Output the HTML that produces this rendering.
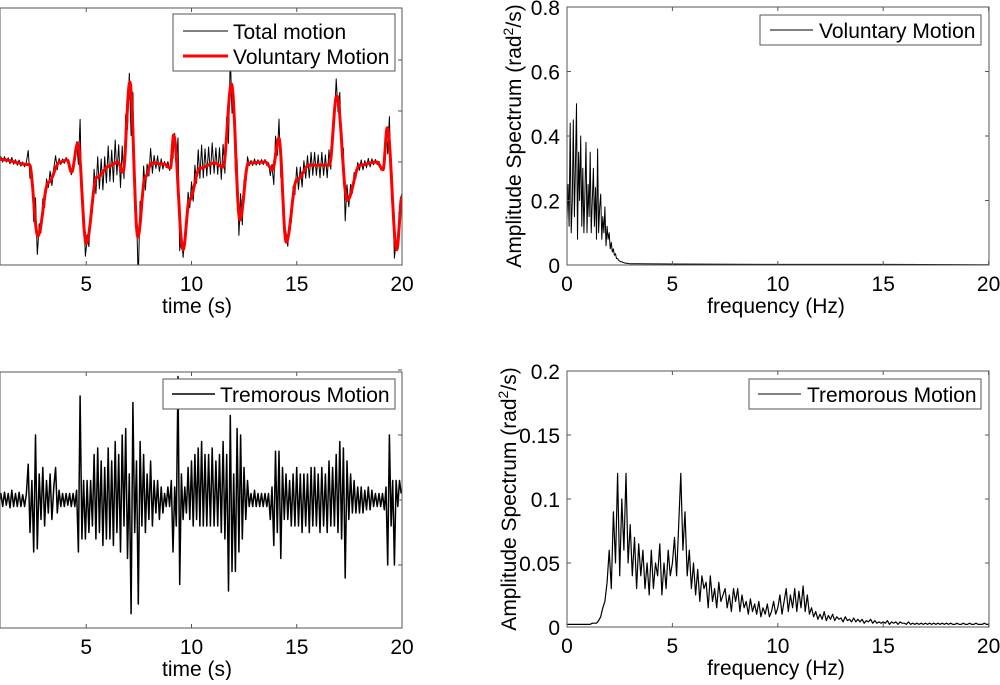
<!DOCTYPE html>
<html><head><meta charset="utf-8"><style>
body{margin:0;background:#fff;width:1000px;height:680px;overflow:hidden}
svg{font-family:"Liberation Sans",sans-serif}
</style></head><body>
<svg id="c" width="1000" height="680" viewBox="0 0 1000 680"></svg>
<script>
// ---- data ----
const volT=[0.9,2.3,2.7,3.2,3.75,4.1,4.3,4.6,5.0,5.5,6.1,6.5,6.75,7.07,7.45,7.8,8.1,8.7,9.0,9.15,9.6,9.9,10.4,11.1,11.5,11.9,12.3,12.7,13.5,13.85,14.15,14.5,15.0,15.6,16.55,16.9,17.4,18.0,18.8,19.1,19.3,19.75,20];
const volV=[0.05,-0.05,-1.45,-0.4,0,0.04,-0.2,0.37,-1.6,-0.3,-0.08,0,-0.2,1.57,-1.47,-0.3,-0.02,-0.04,-0.12,0.53,-1.72,-0.75,-0.12,-0.02,-0.1,1.53,-1.14,-0.02,0,-0.15,0.47,-1.57,-0.35,-0.06,-0.06,1.3,-0.75,-0.06,0,-0.15,0.67,-1.72,-0.67];
const tremSegStart=[0.9,2.2,3.5,4.5,5.0,6.0,7.0,7.6,8.6,9.0,9.8,10.6,11.8,12.7,13.7,14.7,17.0,17.6,19.2];
const tremSegEnd=[2.2,3.5,4.5,5.0,6.0,7.0,7.6,8.6,9.0,9.8,10.6,11.8,12.7,13.7,14.7,17.0,17.6,19.2,20];
const tremVals=[
[.1,-.1,.12,-.08,.1,-.12,.15,-.1,.1,-.1,.12,-.1,.08,-.1,.1],
[.55,-.5,.3,-.8,1.0,-.75,.4,-.3,.5,-.4,.3,-.2,.4,-.3,.2],
[.5,-.2,.15,-.1,.1,-.1,.1,-.08,.1,-.1,.1,-.1],
[.15,-.8,1.6,-.6,.3,-.6],
[.3,-.5,.3,-.4,.7,-.6,.8,-.5,.6,-.7,.5,-.6],
[.8,-.6,.6,-.7,.9,-.5,.7,-.8,1.0,-.4,1.1,-.9],
[.4,-1.75,1.5,-.5,.6,-1.6,.9],
[-.4,.7,-.5,.4,-.3,.6,-.4,.3,-.2,.3,-.3,.2],
[-.2,.1,-.1,.2,-.1],
[.3,-.8,.2,-.4,1.9,-1.3,.4,-.3,.2,-.2],
[.5,-.3,.6,-.4,.7,-.3,.8,-.4,.9,-.4],
[.7,-.4,.7,-.4,.8,-.4,.6,-.4,.7,-.5,.9,-.6,.7,-1.4],
[1.3,-1.1,.4,-1.1,1.1,-.8,1.0,-.6,.5,-.3,.3],
[-.1,.1,-.1,.15,-.1,.1,-.1,.1,-.1,.1,-.1,.1],
[-.3,.2,-.7,.75,-.5,.75,-.9,.5,-.3,.4,-.3,.3],
[-.4,.4,-.4,.5,-.4,.4,-.5,.4,-.4,.4,-.5,.5,-.4,.5,-.4,.4,-.5,.5,-.4,.4,-.5,.6,-.4,.5,-.4,.7,-.5],
[.9,-.6,.8,-1.2,.6,-.3,.4],
[-.2,.3,-.2,.2,-.2,.2,-.2,.15,-.15,.2,-.15,.15,-.1,.1,-.1,.1,-.1,.1,-.15],
[.2,-1.0,1.0,-.4,.3,-1.0,.3,-.1,.3,.1]];
const volSpecStep=0.05;
const volSpec=[.14,.25,.12,.44,.1,.2,.45,.15,.3,.5,.08,.35,.2,.4,.12,.3,.1,.22,.38,.1,.25,.15,.35,.1,.2,.3,.12,.24,.08,.36,.1,.18,.22,.08,.15,.1,.18,.06,.12,.08,.1,.05,.07,.04,.05,.03,.035,.02,.02,.015,.012,.01,.01,.008,.007,.006,.006,.005,.005,.004,.004];
const volSpecTailF=[3,5,10,15,20];
const volSpecTail=[.004,.003,.002,.002,.001];
const tremSpecStep=0.1;
const tremSpec=[.002,.002,.002,.002,.002,.002,.002,.002,.002,.002,.002,.002,.003,.003,.003,
.005,.008,.015,.02,.035,
.06,.03,.09,.05,.12,.04,.1,.06,.12,.05,
.08,.04,.07,.03,.065,.04,.06,.03,.05,.025,
.06,.03,.05,.04,.065,.025,.05,.03,.06,.04,
.05,.07,.04,.08,.12,.06,.09,.04,.06,.03,
.05,.025,.045,.02,.04,.03,.035,.015,.04,.02,
.03,.015,.035,.02,.025,.03,.015,.025,.012,.03,
.02,.03,.012,.025,.015,.02,.01,.022,.012,.018,
.01,.02,.008,.015,.01,.018,.008,.012,.02,.01,
.015,.025,.01,.02,.03,.012,.025,.015,.03,.012,
.028,.015,.032,.012,.025,.01,.015,.008,.012,.006,
.01,.006,.012,.005,.009,.006,.01,.005,.008,.006,
.007,.004,.008,.005,.006,.004,.007,.004,.006,.004,
.006,.003,.005,.004,.006,.003,.005,.003,.004,.003,
.004,.003,.005,.002,.004,.003,.004,.002,.004,.003,
.003,.002,.004,.002,.003,.002,.003,.002,.003,.002,
.003,.002,.003,.002,.003,.002,.003,.002,.003,.002,
.003,.002,.003,.002,.002,.003,.002,.002,.003,.002,
.002,.003,.002,.002,.003,.002,.002,.002,.003,.002,.002];
const timeTicks=[5,10,15,20];
const freqTicks=[0,5,10,15,20];
const volSpecYTicks=[0,0.2,0.4,0.6,0.8];
const tremSpecYTicks=[0,0.05,0.1,0.15,0.2];
const tremSpecYLabels=["0","0.05","0.1","0.15","0.2"];
const volSpecYLabels=["0","0.2","0.4","0.6","0.8"];
const leftYTicks=[-1,0,1,2];

// ---- helpers ----
const FS=21;
const svg=document.getElementById('c');
const NS='http://www.w3.org/2000/svg';
function mk(tag,attrs,parent){const e=document.createElementNS(NS,tag);for(const k in attrs)e.setAttribute(k,attrs[k]);(parent||svg).appendChild(e);return e;}
function interp(ts,vs,t){if(t<=ts[0])return vs[0];for(let i=1;i<ts.length;i++){if(t<=ts[i]){const f=(t-ts[i-1])/(ts[i]-ts[i-1]);return vs[i-1]+f*(vs[i]-vs[i-1]);}}return vs[vs.length-1];}
function sinterp(ts,vs,t){if(t<=ts[0])return vs[0];for(let i=1;i<ts.length;i++){if(t<=ts[i]){let f=(t-ts[i-1])/(ts[i]-ts[i-1]);f=(1-Math.cos(Math.PI*f))/2;return vs[i-1]+f*(vs[i]-vs[i-1]);}}return vs[vs.length-1];}
const tremT=[],tremV=[];
tremSegStart.forEach((s,i)=>{const vals=tremVals[i];const d=(tremSegEnd[i]-s)/vals.length;vals.forEach((v,j)=>{tremT.push(s+d*(j+0.5));tremV.push(v);});});

const LX0=-19, LPX=21.05;
const tx=t=>LX0+LPX*t;
const topY=v=>162-51*v;
const botY=v=>500-65*v;
const fx=f=>567+21.08*f;
const vsY=a=>265-322.5*a;
const tsY=a=>627-1280*a;

function box(x1,y1,x2,y2,name){mk('rect',{x:x1,y:y1,width:x2-x1,height:y2-y1,fill:'none',stroke:'#555','stroke-width':1,});}
function line(pts,color,w,name){const e=mk('polyline',{points:pts.map(p=>p[0].toFixed(1)+','+p[1].toFixed(1)).join(' '),fill:'none',stroke:color,'stroke-width':w,'stroke-linejoin':'round'});return e;}
function txt(x,y,s,anchor,name,size){const e=mk('text',{x:x,y:y,'font-size':size||FS,'text-anchor':anchor||'middle',fill:'#000'});e.textContent=s;return e;}
function tick(x1,y1,x2,y2){const e=mk('line',{x1:x1,y1:y1,x2:x2,y2:y2,stroke:'#555','stroke-width':1});}

// ===== top-left =====
const clip=mk('clipPath',{id:'cl'});mk('rect',{x:0,y:8,width:402,height:257},clip);
const g1=mk('g',{'clip-path':'url(#cl)'});

const totPts=[];
const allT=[...new Set([...tremT,...volT])].sort((a,b)=>a-b);
allT.forEach(t=>{totPts.push([tx(t),topY(sinterp(volT,volV,t)+0.5*interp(tremT,tremV,t))]);});
g1.appendChild(line(totPts,'#000',1,'total-motion-line'));
const volPts=[];for(let t=0.9;t<=20.001;t+=0.025)volPts.push([tx(t),topY(sinterp(volT,volV,t))]);
g1.appendChild(line(volPts,'#f00',3,'voluntary-motion-line'));
box(0,8,402,265,'top-left-axes');
timeTicks.forEach(t=>{tick(tx(t),265,tx(t),261);tick(tx(t),8,tx(t),12);txt(tx(t),291,String(t),'middle','x-tick-label');});
leftYTicks.forEach(v=>tick(402,topY(v),398,topY(v)));
txt(197,313,'time (s)','middle','x-axis-title');
mk('rect',{x:173,y:14,width:222,height:57,fill:'#fff',stroke:'#555',});
mk('line',{x1:183,y1:31,x2:228,y2:31,stroke:'#000','stroke-width':1,});
txt(233,39,'Total motion','start','legend-total-label');
mk('line',{x1:183,y1:56,x2:228,y2:56,stroke:'#f00','stroke-width':3,});
txt(233,64,'Voluntary Motion','start','legend-voluntary-label');

// ===== bottom-left =====
const clip2=mk('clipPath',{id:'cl2'});mk('rect',{x:0,y:372,width:402,height:256},clip2);
const g2=mk('g',{'clip-path':'url(#cl2)'});
const trPts=[[tx(0.9),botY(0)]];tremT.forEach((t,i)=>trPts.push([tx(t),botY(tremV[i])]));
g2.appendChild(line(trPts,'#000',1.5,'tremor-line'));
box(0,372,402,628,'bottom-left-axes');
timeTicks.forEach(t=>{tick(tx(t),628,tx(t),624);tick(tx(t),372,tx(t),376);txt(tx(t),654,String(t),'middle','x-tick-label');});
leftYTicks.forEach(v=>tick(402,botY(v),398,botY(v)));
txt(197,676,'time (s)','middle','x-axis-title');
mk('rect',{x:163,y:379,width:232,height:30,fill:'#fff',stroke:'#555',});
mk('line',{x1:172,y1:394,x2:215,y2:394,stroke:'#000','stroke-width':1.5,});
txt(220,402,'Tremorous Motion','start','legend-tremor-label');

// ===== top-right =====
const vsPts=volSpec.map((a,i)=>[fx(i*volSpecStep),vsY(a)]);
volSpecTailF.forEach((f,i)=>vsPts.push([fx(f),vsY(volSpecTail[i])]));
line(vsPts,'#000',1,'voluntary-spectrum-line');
box(567,7,989,265,'top-right-axes');
freqTicks.forEach(f=>{tick(fx(f),265,fx(f),261);tick(fx(f),7,fx(f),11);txt(fx(f),291,String(f),'middle','x-tick-label');});
volSpecYTicks.forEach((a,i)=>{tick(567,vsY(a),571,vsY(a));tick(989,vsY(a),985,vsY(a));txt(560,vsY(a)+8,volSpecYLabels[i],'end','y-tick-label');});
txt(776,313,'frequency (Hz)','middle','x-axis-title');
(function(){const e=txt(0,0,'','middle','y-axis-title');e.setAttribute('transform','translate(521,136) rotate(-90)');e.innerHTML='Amplitude Spectrum (rad<tspan font-size="14" dy="-8">2</tspan><tspan dy="8">/s)</tspan>';})();
mk('rect',{x:760,y:15,width:221,height:30,fill:'#fff',stroke:'#555',});
mk('line',{x1:770,y1:30,x2:813,y2:30,stroke:'#000','stroke-width':1,});
txt(819,38,'Voluntary Motion','start','legend-vol-spec-label');

// ===== bottom-right =====
line(tremSpec.map((a,i)=>[fx(i*tremSpecStep),tsY(a)]),'#000',1.2,'tremor-spectrum-line');
box(567,371,989,627,'bottom-right-axes');
freqTicks.forEach(f=>{tick(fx(f),627,fx(f),623);tick(fx(f),371,fx(f),375);txt(fx(f),653,String(f),'middle','x-tick-label');});
tremSpecYTicks.forEach((a,i)=>{tick(567,tsY(a),571,tsY(a));tick(989,tsY(a),985,tsY(a));txt(560,tsY(a)+8,tremSpecYLabels[i],'end','y-tick-label');});
txt(776,675,'frequency (Hz)','middle','x-axis-title');
(function(){const e=txt(0,0,'','middle','y-axis-title');e.setAttribute('transform','translate(516,499) rotate(-90)');e.innerHTML='Amplitude Spectrum (rad<tspan font-size="14" dy="-8">2</tspan><tspan dy="8">/s)</tspan>';})();
mk('rect',{x:749,y:379,width:232,height:30,fill:'#fff',stroke:'#555',});
mk('line',{x1:758,y1:394,x2:801,y2:394,stroke:'#000','stroke-width':1,});
txt(807,402,'Tremorous Motion','start','legend-trem-spec-label');
</script>
</body></html>
